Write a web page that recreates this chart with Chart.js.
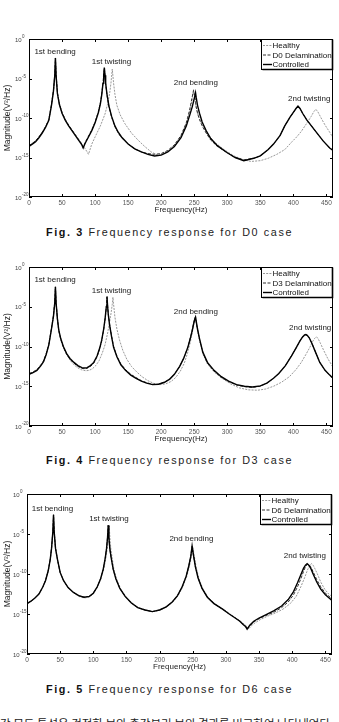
<!DOCTYPE html>
<html>
<head>
<meta charset="utf-8">
<script src="https://cdn.jsdelivr.net/npm/chart.js@4.4.1/dist/chart.umd.min.js"></script>
<style>
  body { margin: 0; background: #fff; width: 339px; height: 722px; overflow: hidden; position: relative; font-family: "Liberation Sans", Arial, sans-serif; }
  canvas { position: absolute; left: 0; }
  .cap { position: absolute; left: 0; width: 339px; text-align: center; font-size: 10.8px; letter-spacing: 1.6px; color: #222; white-space: nowrap; line-height: 14px; }
  .cap b { font-weight: bold; color: #111; }
  .body-text { position: absolute; left: 0; top: 715px; width: 339px; font-family: "Noto Sans CJK KR", sans-serif; font-size: 11.5px; color: #222; white-space: nowrap; line-height: 16px; }
</style>
</head>
<body>
<canvas id="fig3" width="339" height="190" style="top:29px"></canvas>
<div class="cap" style="top:225px"><b>Fig. 3</b> Frequency response for D0 case</div>
<canvas id="fig4" width="339" height="191" style="top:257px"></canvas>
<div class="cap" style="top:453px"><b>Fig. 4</b> Frequency response for D3 case</div>
<canvas id="fig5" width="339" height="192" style="top:484px"></canvas>
<div class="cap" style="top:682px"><b>Fig. 5</b> Frequency response for D6 case</div>
<div class="body-text">각 모드 특성은 건전한 보와 층간분리 보의 결과를 비교하여 나타내었다</div>
<script>
// magnitudes are given as log10 of V^2/Hz
const xTicks = [0, 50, 100, 150, 200, 250, 300, 350, 400, 450];
const yTicks = [0, -5, -10, -15, -20];

// Fig. 3, D0 case
const d0Hz = [0,5,10,15,20,25,30, 34,37,39,40,41,43,46, 50,55,60,65,70,75,80, 82,85,90,95,100,105,108,
  110,112,113,114,115,116,118, 121,125,130,135,140,150,160, 170,180,190,200,210,220,230,
  238,243,247,249,251,252,253, 255,258,262,268,275,285,300, 312,325,340,350,362,370,380,
  387,395,400,404,407,410,414, 420,432,445,455,460];
const d0Controlled = [-13.6,-13.3,-13.0,-12.5,-11.9,-11.2,-10.3, -8.4,-6.6,-4.6,-2.4,-4.6,-6.9,-8.3,
  -9.4,-10.3,-11.0,-11.6,-12.2,-12.8,-13.4, -13.8,-13.2,-12.4,-11.6,-10.6,-9.3,-8.2,
  -7.1,-5.6,-4.6,-3.6,-4.6,-5.6,-7.0, -8.5,-9.8,-11.0,-11.8,-12.4,-13.3,-13.9,
  -14.3,-14.6,-14.8,-14.7,-14.3,-13.6,-12.5, -11.0,-9.7,-8.6,-7.9,-7.2,-6.8,-7.4,
  -8.4,-9.4,-10.5,-11.6,-12.6,-13.5,-14.4, -15.0,-15.4,-15.1,-14.8,-14.0,-13.3,-12.2,
  -11.0,-9.9,-9.3,-8.8,-8.5,-8.8,-9.4, -10.2,-11.5,-12.9,-13.8,-14.1];
const d0Delam = [-13.5,-13.2,-12.9,-12.4,-11.8,-11.1,-10.2, -8.3,-6.5,-4.5,-2.4,-4.5,-6.8,-8.2,
  -9.3,-10.2,-10.9,-11.5,-12.1,-12.7,-13.3, -13.7,-13.1,-12.3,-11.5,-10.5,-9.2,-8.1,
  -7.0,-5.5,-4.5,-3.7,-4.7,-5.7,-7.1, -8.6,-9.9,-11.1,-11.9,-12.5,-13.3,-13.9,
  -14.3,-14.5,-14.6,-14.5,-14.1,-13.4,-12.2, -10.6,-9.0,-7.3,-6.5,-7.4,-8.0,-8.6,
  -9.4,-10.2,-11.0,-11.9,-12.8,-13.6,-14.4, -15.0,-15.3,-15.1,-14.8,-14.0,-13.3,-12.2,
  -11.0,-9.9,-9.3,-8.8,-8.5,-8.8,-9.4, -10.2,-11.5,-12.9,-13.8,-14.1];
const d0HealthyHz = [0,5,10,15,20,25,30, 34,37,39,40,41,43,46, 50,55,60,65,70,75,80,
  85,88,90,95,100,108,115, 119,122,124,125,126,127,128, 130,133,138,145,155,165,175,
  185,195,205,215,225,233,240, 244,247,249,251,253,257,263, 270,280,295,310,325,336,350,
  362,375,387,398,405,412,420, 427,431,434,437,442,448,455, 460];
const d0Healthy = [-13.5,-13.2,-12.9,-12.4,-11.8,-11.1,-10.2, -8.4,-6.6,-4.6,-2.4,-4.6,-6.9,-8.3,
  -9.4,-10.3,-11.0,-11.6,-12.2,-12.8,-13.3, -13.9,-14.3,-14.6,-13.3,-12.4,-11.0,-9.5,
  -8.2,-6.9,-5.6,-4.7,-3.8,-4.7,-5.6, -7.0,-8.4,-9.6,-10.7,-11.9,-12.8,-13.6,
  -14.3,-14.7,-14.5,-13.9,-13.0,-11.8,-10.2, -8.9,-7.6,-6.4,-7.6,-8.7,-9.9,-11.0,
  -12.0,-13.0,-14.0,-14.8,-15.3,-15.5,-15.4, -15.1,-14.6,-14.0,-13.0,-12.4,-11.7,-10.7,
  -9.8,-9.2,-8.9,-9.2,-10.0,-10.9,-11.8, -12.5];

// Fig. 4, D3 case
const d3Hz = [0,6,12,18,22,26,30, 34,37,39,40,41,43,45, 48,52,57,62,68,74,80, 84,88,93,98,103,107,110,
  113,115,117,118,119,120,122, 125,128,133,139,146,154,162, 170,178,187,196,205,213,220,
  228,234,240,244,247,249,251, 252,253,255,258,263,270,280, 291,302,314,326,338,350,360,
  370,378,388,397,404,410,414, 417,419,421,424,428,434,440, 448,455,460];
const d3Controlled = [-13.5,-13.3,-13.0,-12.4,-11.9,-11.0,-9.8, -7.8,-6.2,-4.5,-2.5,-4.5,-6.5,-7.9,
  -9.0,-10.0,-10.9,-11.5,-12.0,-12.4,-12.65, -12.7,-12.65,-12.4,-12.0,-11.2,-10.2,-9.2,
  -7.8,-6.6,-5.0,-3.7,-5.0,-6.0,-7.3, -8.8,-10.1,-11.3,-12.3,-13.0,-13.6,-14.0,
  -14.35,-14.6,-14.8,-14.75,-14.5,-14.1,-13.5, -12.5,-11.5,-10.2,-9.0,-8.0,-7.2,-6.5,
  -6.3,-6.8,-7.8,-9.0,-10.7,-12.0,-13.0, -13.8,-14.35,-14.8,-15.0,-15.1,-14.95,-14.6,
  -14.0,-13.4,-12.4,-11.2,-10.2,-9.3,-8.8, -8.55,-8.5,-8.6,-8.9,-9.6,-10.8,-12.0,
  -13.0,-13.6,-14.0];
const d3Delam = [-13.4,-13.2,-12.9,-12.3,-11.8,-10.9,-9.7, -7.7,-6.1,-4.4,-2.5,-4.5,-6.6,-8.0,
  -9.1,-10.1,-11.0,-11.6,-12.1,-12.5,-12.75, -12.8,-12.75,-12.5,-12.1,-11.3,-10.3,-9.3,
  -7.9,-6.7,-5.1,-3.8,-4.9,-5.9,-7.2, -8.7,-10.0,-11.2,-12.2,-12.9,-13.5,-13.9,
  -14.3,-14.55,-14.75,-14.75,-14.5,-14.1,-13.5, -12.5,-11.5,-10.2,-9.0,-7.9,-7.1,-6.4,
  -6.3,-6.9,-7.9,-9.1,-10.8,-12.1,-13.1, -13.9,-14.4,-14.85,-15.05,-15.15,-15.0,-14.6,
  -14.0,-13.4,-12.4,-11.2,-10.2,-9.3,-8.8, -8.55,-8.5,-8.6,-8.9,-9.6,-10.8,-12.0,
  -13.0,-13.6,-14.0];
const d3HealthyHz = [0,6,12,18,22,26,30, 34,37,39,40,41,43,45, 48,52,57,62,68,74,80,
  86,91,96,101,106,111,115, 119,122,124,126,127,128,130, 133,137,142,148,155,163,171,
  180,189,198,207,215,222,229, 235,240,244,247,249,251,252, 253,255,258,263,270,280,292,
  305,318,332,346,358,370,382, 394,404,412,419,425,429,432, 434,435,436,438,441,446,452, 460];
const d3Healthy = [-13.5,-13.3,-13.0,-12.4,-11.9,-11.0,-9.8, -7.8,-6.2,-4.5,-2.5,-4.5,-6.5,-7.9,
  -9.1,-10.1,-11.0,-11.7,-12.3,-12.7,-12.95, -13.05,-13.0,-12.8,-12.4,-11.8,-10.8,-9.8,
  -8.3,-6.9,-5.9,-4.7,-3.8,-4.7,-6.3, -7.8,-9.2,-10.5,-11.6,-12.5,-13.2,-13.8,
  -14.3,-14.65,-14.8,-14.7,-14.4,-13.9,-13.1, -12.1,-10.8,-9.5,-8.3,-7.3,-6.5,-6.4,
  -6.9,-7.9,-9.2,-10.9,-12.2,-13.2,-14.0, -14.7,-15.2,-15.45,-15.5,-15.35,-15.0,-14.5,
  -13.8,-12.9,-12.0,-11.0,-10.1,-9.4,-9.0, -8.85,-8.8,-8.85,-9.1,-9.6,-10.5,-11.5, -12.6];

// Fig. 5, D6 case
const d6Hz = [0,6,12,18,24,28,32, 35,37,39,40,41,43,46, 50,55,62,70,78,86,94,
  100,106,111,115,118,120,121.5, 122.5,123.5,125,127,130,134,140, 148,157,167,178,189,200,210,
  219,227,234,240,244,247,249, 251,254,258,264,272,282,295, 305,314,321,326,330,332,336,
  342,350,360,372,384,394,402, 408,413,417,420,422.5,425,428, 432,437,443,450,460];
const d6Controlled = [-13.7,-13.4,-13.0,-12.5,-11.6,-10.8,-9.6, -8.2,-6.8,-4.7,-2.6,-4.7,-6.8,-8.2,
  -9.8,-10.8,-11.7,-12.3,-12.7,-12.9,-12.8, -12.4,-11.6,-10.6,-9.4,-8.0,-6.8,-5.4,
  -3.9,-5.4,-6.9,-8.0,-9.4,-10.6,-11.8, -12.8,-13.6,-14.2,-14.5,-14.7,-14.5,-14.1,
  -13.5,-12.7,-11.6,-10.3,-9.0,-7.8,-6.5, -7.6,-9.1,-10.5,-11.8,-12.9,-13.7,-14.4,
  -15.0,-15.5,-15.9,-16.3,-16.6,-16.9,-16.4, -15.9,-15.5,-15.1,-14.6,-14.0,-13.2,-12.2,
  -11.1,-10.1,-9.3,-8.9,-8.7,-8.9,-9.3, -10.1,-11.0,-11.9,-12.6,-13.3];
const d6Delam = [-13.7,-13.4,-13.0,-12.5,-11.6,-10.8,-9.6, -8.2,-6.8,-4.7,-2.6,-4.7,-6.8,-8.2,
  -9.8,-10.8,-11.7,-12.3,-12.7,-12.9,-12.8, -12.4,-11.6,-10.6,-9.4,-8.0,-6.8,-5.4,
  -3.9,-5.4,-6.9,-8.0,-9.4,-10.6,-11.8, -12.8,-13.6,-14.2,-14.5,-14.7,-14.5,-14.1,
  -13.5,-12.7,-11.6,-10.3,-9.0,-7.8,-6.5, -7.6,-9.1,-10.5,-11.8,-12.9,-13.7,-14.4,
  -15.0,-15.5,-15.9,-16.3,-16.6,-16.9,-16.5, -16.0,-15.6,-15.2,-14.8,-14.2,-13.5,-12.6,
  -11.6,-10.6,-9.7,-9.1,-8.8,-8.8,-9.1, -9.8,-10.7,-11.6,-12.4,-13.1];
const d6HealthyHz = [0,6,12,18,24,28,32, 35,37,39,40,41,43,46, 50,55,62,70,78,86,94,
  100,106,111,116,119,121,123, 124,125,126.5,128.5,131,135,141, 149,158,168,179,190,201,211,
  220,228,235,241,245,248,250, 252,255,259,265,273,283,296, 306,315,322,328,332,334,338,
  344,352,362,374,386,397,406, 413,419,423,426,429,431.5,434, 438,443,449,455,460];
const d6Healthy = [-13.7,-13.4,-13.0,-12.5,-11.6,-10.8,-9.6, -8.2,-6.8,-4.7,-2.6,-4.7,-6.8,-8.2,
  -9.8,-10.8,-11.7,-12.3,-12.8,-13.0,-12.9, -12.5,-11.7,-10.7,-9.3,-8.0,-6.8,-5.4,
  -4.0,-5.4,-6.9,-8.0,-9.4,-10.6,-11.8, -12.8,-13.6,-14.2,-14.5,-14.7,-14.5,-14.1,
  -13.5,-12.7,-11.6,-10.3,-9.0,-7.8,-6.6, -7.6,-9.1,-10.5,-11.8,-12.9,-13.7,-14.4,
  -15.0,-15.5,-15.9,-16.3,-16.6,-16.9,-16.5, -16.1,-15.7,-15.3,-14.9,-14.4,-13.7,-12.8,
  -11.6,-10.4,-9.5,-9.0,-8.7,-8.9,-9.3, -10.0,-11.0,-11.9,-12.5,-12.8];

const modeNames = ["1st bending", "1st twisting", "2nd bending", "2nd twisting"];

const toPoints = (hz, mag) => hz.map((f, i) => ({ x: f, y: mag[i] }));

const styles = [
  { borderColor: "#8c8c8c", borderWidth: 0.9, borderDash: [2, 1.2], order: 2 },
  { borderColor: "#333", borderWidth: 1, borderDash: [3, 1.5], order: 1 },
  { borderColor: "#000", borderWidth: 1.4, borderDash: [], order: 0 },
];

const framePlugin = {
  id: "frame",
  afterDatasetsDraw(chart, args, opts) {
    const { ctx, chartArea: a, scales: { x, y } } = chart;
    ctx.save();
    ctx.strokeStyle = "#000";
    ctx.lineWidth = 1;
    ctx.beginPath();
    x.ticks.forEach((t) => {
      const px = Math.round(x.getPixelForValue(t.value)) + 0.5;
      ctx.moveTo(px, a.bottom); ctx.lineTo(px, a.bottom - 3);
      ctx.moveTo(px, a.top); ctx.lineTo(px, a.top + 3);
    });
    y.ticks.forEach((t) => {
      const py = Math.round(y.getPixelForValue(t.value)) + 0.5;
      ctx.moveTo(a.left, py); ctx.lineTo(a.left + 3, py);
      ctx.moveTo(a.right, py); ctx.lineTo(a.right - 3, py);
    });
    ctx.stroke();
    ctx.strokeRect(a.left + 0.5, a.top + 0.5, a.width - 1, a.height - 1);

    // y tick labels: 10 with a small raised exponent
    ctx.fillStyle = "#444";
    ctx.textBaseline = "middle";
    ctx.textAlign = "left";
    y.ticks.forEach((t) => {
      const py = y.getPixelForValue(t.value);
      ctx.font = '6px "Liberation Sans", Arial';
      ctx.fillText("10", a.left - 14, py + 1);
      const w = ctx.measureText("10").width;
      ctx.font = '4.5px "Liberation Sans", Arial';
      ctx.fillText(String(t.value), a.left - 14 + w + 0.3, py - 2);
    });

    // mode labels
    ctx.fillStyle = "#1a1a1a";
    ctx.font = '8px "Liberation Sans", Arial';
    ctx.textAlign = "center";
    opts.modes.forEach((m, i) => {
      ctx.fillText(modeNames[i], x.getPixelForValue(m[0]), y.getPixelForValue(m[1]));
    });

    // legend box
    const bw = 72, bh = 31;
    const bx = a.right - bw, by = a.top;
    ctx.fillStyle = "#fff";
    ctx.fillRect(bx, by, bw, bh);
    ctx.lineWidth = 1;
    ctx.strokeStyle = "#000";
    ctx.strokeRect(bx + 0.5, by + 0.5, bw - 1, bh - 1);
    ctx.beginPath();
    ctx.moveTo(bx + 1.5, by + bh - 0.5); ctx.lineTo(a.right - 0.5, by + bh - 0.5);
    ctx.lineTo(a.right - 0.5, by + 0.5);
    ctx.lineWidth = 1.6;
    ctx.stroke();
    ctx.textAlign = "left";
    ctx.font = '8px "Liberation Sans", Arial';
    chart.data.datasets.forEach((ds, i) => {
      const ry = by + 6.5 + i * 9.5;
      ctx.beginPath();
      ctx.strokeStyle = ds.borderColor;
      ctx.lineWidth = ds.borderWidth;
      ctx.setLineDash(ds.borderDash);
      ctx.moveTo(bx + 2, ry); ctx.lineTo(bx + 11, ry);
      ctx.stroke();
      ctx.setLineDash([]);
      ctx.fillStyle = "#111";
      ctx.fillText(ds.label, bx + 11.5, ry + 0.5);
    });
    ctx.restore();
  },
};

function makeChart(id, series, labels, modes, left, right) {
  const datasets = series.map((s, i) => ({
    label: labels[i],
    data: toPoints(s[0], s[1]),
    borderColor: styles[i].borderColor,
    borderWidth: styles[i].borderWidth,
    borderDash: styles[i].borderDash,
    order: styles[i].order,
    pointRadius: 0,
    tension: 0,
    fill: false,
  }));
  new Chart(document.getElementById(id), {
    type: "line",
    data: { datasets },
    plugins: [framePlugin],
    options: {
      responsive: false,
      animation: false,
      events: [],
      layout: { padding: { top: 10, bottom: 4, left: 0, right: 339 - right } },
      plugins: { legend: { display: false }, tooltip: { enabled: false }, frame: { modes } },
      scales: {
        x: {
          type: "linear", min: 0, max: 460,
          grid: { display: false, drawTicks: false }, border: { display: false },
          afterBuildTicks: (s) => { s.ticks = xTicks.map((v) => ({ value: v })); },
          afterFit: (s) => { s.height = 18; },
          ticks: { color: "#555", font: { size: 6.5, family: '"Liberation Sans", Arial' }, padding: 2, maxRotation: 0, autoSkip: false },
          title: { display: true, text: "Frequency(Hz)", color: "#222", font: { size: 8, family: '"Liberation Sans", Arial' }, padding: { top: 0, bottom: 0 } },
        },
        y: {
          type: "linear", min: -20, max: 0,
          grid: { display: false, drawTicks: false }, border: { display: false },
          afterBuildTicks: (s) => { s.ticks = yTicks.map((v) => ({ value: v })); },
          afterFit: (s) => { s.width = left; },
          ticks: { display: false },
          title: { display: true, text: "Magnitude(V²/Hz)", color: "#222", font: { size: 8.5, family: '"Liberation Sans", Arial' }, padding: { top: 3, bottom: 0 } },
        },
      },
    },
  });
}

makeChart("fig3", [[d0HealthyHz, d0Healthy], [d0Hz, d0Delam], [d0Hz, d0Controlled]],
  ["Healthy", "D0 Delamination", "Controlled"],
  [[39.5, -1.65], [124.8, -2.9], [252.5, -5.6], [424, -7.6]], 29, 333);
makeChart("fig4", [[d3HealthyHz, d3Healthy], [d3Hz, d3Delam], [d3Hz, d3Controlled]],
  ["Healthy", "D3 Delamination", "Controlled"],
  [[39.5, -1.67], [124.8, -3.0], [252.5, -5.6], [425.5, -7.7]], 29, 333);
makeChart("fig5", [[d6HealthyHz, d6Healthy], [d6Hz, d6Delam], [d6Hz, d6Controlled]],
  ["Healthy", "D6 Delamination", "Controlled"],
  [[38.4, -1.8], [123.6, -3.05], [248, -5.6], [419, -7.75]], 27, 332);
</script>
</body>
</html>
